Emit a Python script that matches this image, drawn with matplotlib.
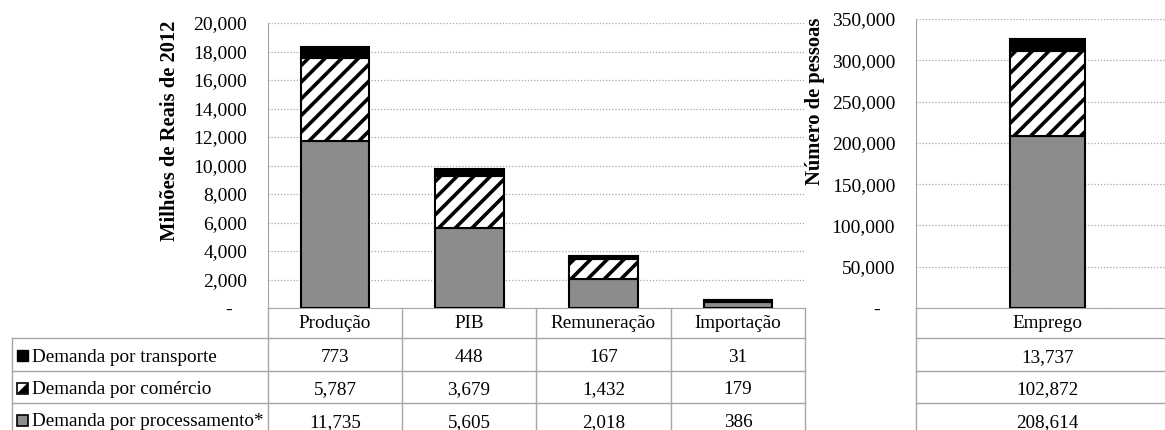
import matplotlib
matplotlib.use("Agg")
import matplotlib.pyplot as plt
from matplotlib.patches import Rectangle, Polygon
from matplotlib.ticker import FuncFormatter

# dados
categorias = ["Produção", "PIB", "Remuneração", "Importação"]
processamento = [11735, 5605, 2018, 386]
comercio = [5787, 3679, 1432, 179]
transporte = [773, 448, 167, 31]

cat_emprego = ["Emprego"]
emp_processamento = [208614]
emp_comercio = [102872]
emp_transporte = [13737]

series = ["Demanda por transporte", "Demanda por comércio", "Demanda por processamento*"]

plt.rcParams["font.family"] = ["Liberation Serif", "DejaVu Serif"]
plt.rcParams["hatch.linewidth"] = 2.6
plt.rcParams["hatch.color"] = "black"

W, H = 1165, 430
CINZA = "#8C8C8C"
LINHA = "#A6A6A6"
FS = 13.8


def caixa(x0, y0, x1, y1):
    # pixels -> coordenadas da figura
    return [x0 / W, 1 - y1 / H, (x1 - x0) / W, (y1 - y0) / H]


def fmt(v, p):
    if v == 0:
        return "-   "
    return f"{v:,.0f}"


fig = plt.figure(figsize=(W / 100, H / 100), dpi=100)

ax1 = fig.add_axes(caixa(268, 23, 805, 308))
ax2 = fig.add_axes(caixa(916, 19, 1179, 308))


def barras(ax, cats, proc, com, transp, larg):
    x = range(len(cats))
    base2 = [a + b for a, b in zip(proc, com)]
    ax.bar(x, proc, larg, color=CINZA, edgecolor="black", linewidth=1.5, zorder=3)
    ax.bar(x, com, larg, bottom=proc, color="white", edgecolor="black",
           hatch="//", linewidth=1.5, zorder=3)
    ax.bar(x, transp, larg, bottom=base2, color="black", edgecolor="black",
           linewidth=1.5, zorder=3)
    ax.set_xlim(-0.5, len(cats) - 0.5)
    ax.set_xticks([])
    ax.grid(axis="y", linestyle=(0, (1, 1.5)), color=LINHA, linewidth=0.9, zorder=0)
    for s in ["top", "right"]:
        ax.spines[s].set_visible(False)
    for s in ["left", "bottom"]:
        ax.spines[s].set_color(LINHA)
    ax.tick_params(axis="y", length=0, pad=15, labelsize=14)
    ax.yaxis.set_major_formatter(FuncFormatter(fmt))


barras(ax1, categorias, processamento, comercio, transporte, 0.51)
ax1.set_ylim(0, 20000)
ax1.set_yticks(range(0, 20001, 2000))

barras(ax2, cat_emprego, emp_processamento, emp_comercio, emp_transporte, 0.285)
ax2.set_ylim(0, 350000)
ax2.set_yticks(range(0, 350001, 50000))

fig.text(170 / W, 1 - 131 / H, "Milhões de Reais de 2012", rotation=90,
         ha="center", va="center", fontsize=14.8, fontweight="bold")
fig.text(815 / W, 1 - 101 / H, "Número de pessoas", rotation=90,
         ha="center", va="center", fontsize=14.8, fontweight="bold")

# tabelas de dados
tab = fig.add_axes([0, 0, 1, 1])
tab.set_xlim(0, W)
tab.set_ylim(H, 0)
tab.axis("off")

linhas_y = [308, 338, 371, 403, 436]
col_x = [268, 402, 536, 671, 805]
lw = 1.0

# tabela esquerda
for y in linhas_y[1:]:
    tab.plot([12, 805], [y, y], color=LINHA, lw=lw)
tab.plot([12, 12], [338, 436], color=LINHA, lw=lw)
for x in col_x:
    tab.plot([x, x], [308, 436], color=LINHA, lw=lw)

valores = [transporte, comercio, processamento]
for j, c in enumerate(categorias):
    xc = (col_x[j] + col_x[j + 1]) / 2
    tab.text(xc, 324, c, ha="center", va="center", fontsize=FS)
    for i, serie in enumerate(valores):
        yc = (linhas_y[i + 1] + linhas_y[i + 2]) / 2 + 3
        tab.text(xc, yc, f"{serie[j]:,}", ha="center", va="center", fontsize=FS)

# rótulos das séries com marcadores
for i, nome in enumerate(series):
    yc = (linhas_y[i + 1] + linhas_y[i + 2]) / 2 + 1
    y0 = yc - 5.5
    if i == 0:
        tab.add_patch(Rectangle((17, y0), 11, 11, facecolor="black", edgecolor="black", lw=1))
    elif i == 1:
        tab.add_patch(Rectangle((17, y0), 11, 11, facecolor="white", edgecolor="black", lw=1.2))
        tab.add_patch(Polygon([(17, y0 + 11), (28, y0), (28, y0 + 11)], closed=True,
                              facecolor="black", edgecolor="none"))
    else:
        tab.add_patch(Rectangle((17, y0), 11, 11, facecolor=CINZA, edgecolor="black", lw=1.2))
    tab.text(32, yc + 1.5, nome, ha="left", va="center", fontsize=FS)

# tabela direita
for y in linhas_y[1:]:
    tab.plot([916, 1165], [y, y], color=LINHA, lw=lw)
tab.plot([916, 916], [308, 436], color=LINHA, lw=lw)
xc2 = (916 + 1179) / 2
tab.text(xc2, 324, cat_emprego[0], ha="center", va="center", fontsize=FS)
emp_valores = [emp_transporte, emp_comercio, emp_processamento]
for i, serie in enumerate(emp_valores):
    yc = (linhas_y[i + 1] + linhas_y[i + 2]) / 2 + 3
    tab.text(xc2, yc, f"{serie[0]:,}", ha="center", va="center", fontsize=FS)

fig.savefig("out.png", dpi=100)
